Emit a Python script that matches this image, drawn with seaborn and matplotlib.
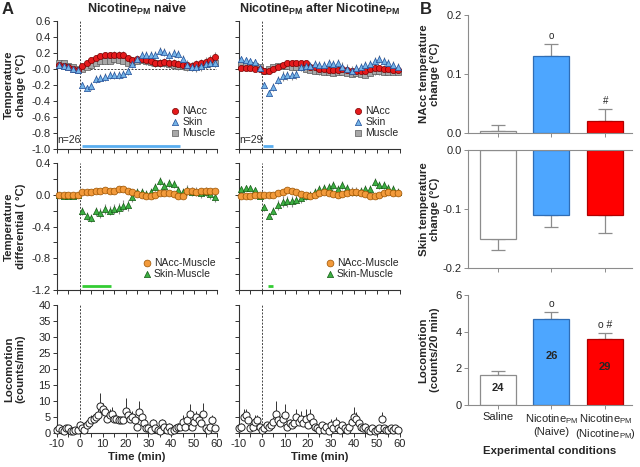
import numpy as np
import matplotlib
matplotlib.use("Agg")
import matplotlib.pyplot as plt
import seaborn as sns

sns.set_style("ticks")
plt.rcParams['font.family'] = ['Liberation Sans', 'DejaVu Sans']
plt.rcParams['mathtext.fontset'] = 'custom'
plt.rcParams['mathtext.rm'] = 'Liberation Sans'
plt.rcParams['mathtext.bf'] = 'Liberation Sans:bold'
plt.rcParams['axes.linewidth'] = 0.8
plt.rcParams['axes.unicode_minus'] = False

# ---- time grids (min) ----
t_temp = [-9, -7, -5, -3, -1, 1, 3, 5, 7, 9, 11, 13, 15, 17, 19, 21, 23, 25, 27, 29,
          31, 33, 35, 37, 39, 41, 43, 45, 47, 49, 51, 53, 55, 57, 59]
t_loco = list(range(-10, 60))

# ---- temperature change, naive ----
naive_nacc = [0.05, 0.04, 0.02, 0.0, -0.01, 0.04, 0.07, 0.11, 0.14, 0.16, 0.17, 0.17, 0.18, 0.18,
              0.17, 0.14, 0.11, 0.12, 0.12, 0.11, 0.10, 0.08, 0.08, 0.09, 0.08, 0.07, 0.06, 0.05,
              0.05, 0.04, 0.06, 0.07, 0.09, 0.11, 0.15]
naive_nacc_err = [0.03, 0.03, 0.03, 0.03, 0.02, 0.02, 0.03, 0.03, 0.04, 0.04, 0.04, 0.04, 0.05, 0.05,
                  0.05, 0.04, 0.04, 0.04, 0.05, 0.05, 0.05, 0.05, 0.05, 0.05, 0.05, 0.05, 0.05, 0.05,
                  0.05, 0.05, 0.05, 0.06, 0.06, 0.06, 0.06]
naive_skin = [0.05, 0.04, 0.02, 0.0, -0.01, -0.20, -0.24, -0.21, -0.12, -0.11, -0.10, -0.08, -0.08,
              -0.07, -0.06, -0.02, 0.06, 0.12, 0.17, 0.17, 0.17, 0.18, 0.23, 0.21, 0.18, 0.20, 0.19,
              0.12, 0.05, 0.03, 0.02, 0.04, 0.06, 0.07, 0.08]
naive_skin_err = [0.03, 0.03, 0.03, 0.03, 0.03, 0.04, 0.04, 0.05, 0.05, 0.05, 0.05, 0.05, 0.05, 0.05,
                  0.05, 0.05, 0.05, 0.05, 0.05, 0.05, 0.05, 0.05, 0.05, 0.05, 0.05, 0.05, 0.05, 0.06,
                  0.06, 0.06, 0.06, 0.06, 0.06, 0.06, 0.06]
naive_muscle = [0.08, 0.07, 0.04, 0.02, 0.0, 0.0, 0.03, 0.05, 0.08, 0.10, 0.10, 0.10, 0.12, 0.11,
                0.10, 0.08, 0.09, 0.10, 0.11, 0.10, 0.09, 0.08, 0.07, 0.07, 0.06, 0.05, 0.04, 0.04,
                0.03, 0.03, 0.04, 0.05, 0.06, 0.07, 0.08]
naive_muscle_err = [0.03, 0.03, 0.03, 0.02, 0.02, 0.02, 0.03, 0.03, 0.03, 0.04, 0.04, 0.04, 0.04, 0.04,
                    0.04, 0.04, 0.04, 0.04, 0.04, 0.05, 0.05, 0.05, 0.05, 0.05, 0.05, 0.05, 0.05, 0.05,
                    0.05, 0.05, 0.05, 0.05, 0.05, 0.05, 0.05]

# ---- temperature change, after nicotine ----
after_nacc = [0.01, 0.01, 0.01, 0.0, 0.0, -0.02, -0.02, 0.0, 0.03, 0.05, 0.07, 0.08, 0.07, 0.07,
              0.07, 0.03, 0.02, 0.0, 0.0, -0.01, -0.01, -0.01, 0.0, -0.01, -0.02, -0.02, -0.03,
              -0.02, 0.0, 0.01, 0.01, 0.0, 0.0, -0.01, -0.01]
after_nacc_err = [0.02, 0.02, 0.02, 0.02, 0.02, 0.02, 0.02, 0.03, 0.03, 0.03, 0.03, 0.03, 0.03, 0.03,
                  0.03, 0.03, 0.03, 0.03, 0.03, 0.03, 0.03, 0.03, 0.03, 0.04, 0.04, 0.04, 0.04, 0.04,
                  0.04, 0.04, 0.04, 0.04, 0.04, 0.04, 0.04]
after_skin = [0.12, 0.11, 0.10, 0.09, 0.01, -0.20, -0.30, -0.22, -0.14, -0.09, -0.08, -0.08, -0.06,
              0.02, 0.04, 0.04, 0.06, 0.05, 0.05, 0.08, 0.06, 0.08, 0.03, 0.0, -0.02, 0.01, 0.03,
              0.05, 0.06, 0.10, 0.12, 0.10, 0.07, 0.05, 0.02]
after_skin_err = [0.03, 0.03, 0.03, 0.03, 0.03, 0.04, 0.04, 0.05, 0.05, 0.06, 0.06, 0.06, 0.06, 0.05,
                  0.05, 0.05, 0.05, 0.05, 0.05, 0.05, 0.05, 0.05, 0.06, 0.06, 0.06, 0.05, 0.05, 0.05,
                  0.05, 0.05, 0.05, 0.05, 0.05, 0.05, 0.05]
after_muscle = [0.05, 0.05, 0.05, 0.04, 0.02, -0.02, 0.0, 0.02, 0.04, 0.04, 0.04, 0.03, 0.03, 0.02,
                0.0, -0.01, -0.02, -0.03, -0.04, -0.04, -0.05, -0.04, -0.04, -0.05, -0.06, -0.05,
                -0.06, -0.07, -0.05, -0.03, -0.03, -0.04, -0.04, -0.04, -0.04]
after_muscle_err = [0.02, 0.02, 0.02, 0.02, 0.02, 0.02, 0.03, 0.03, 0.03, 0.03, 0.03, 0.03, 0.03, 0.03,
                    0.03, 0.03, 0.04, 0.04, 0.04, 0.04, 0.04, 0.04, 0.04, 0.04, 0.04, 0.04, 0.04, 0.04,
                    0.04, 0.04, 0.04, 0.04, 0.04, 0.04, 0.04]

# ---- temperature differentials ----
naive_nm = [0.0, 0.0, 0.0, 0.0, 0.0, 0.04, 0.04, 0.04, 0.05, 0.05, 0.06, 0.05, 0.05, 0.07, 0.07,
            0.05, 0.03, 0.01, 0.0, -0.01, -0.02, 0.0, 0.02, 0.02, 0.02, 0.01, -0.01, -0.02, 0.05,
            0.05, 0.04, 0.05, 0.05, 0.05, 0.05]
naive_nm_err = [0.01, 0.01, 0.01, 0.01, 0.01, 0.01, 0.01, 0.01, 0.01, 0.02, 0.02, 0.02, 0.02, 0.02,
                0.02, 0.02, 0.02, 0.02, 0.02, 0.02, 0.02, 0.02, 0.02, 0.02, 0.02, 0.02, 0.02, 0.02,
                0.02, 0.02, 0.02, 0.02, 0.02, 0.02, 0.02]
naive_sm = [0.0, -0.01, -0.02, -0.02, 0.0, -0.20, -0.27, -0.29, -0.21, -0.23, -0.18, -0.20, -0.18,
            -0.17, -0.14, -0.13, -0.03, 0.03, 0.04, 0.01, 0.04, 0.10, 0.17, 0.11, 0.15, 0.14, 0.06,
            0.03, 0.06, 0.04, 0.04, 0.02, 0.04, 0.01, -0.03]
naive_sm_err = [0.02, 0.02, 0.02, 0.02, 0.02, 0.05, 0.05, 0.05, 0.06, 0.06, 0.06, 0.06, 0.06, 0.07,
                0.07, 0.07, 0.06, 0.05, 0.05, 0.05, 0.05, 0.05, 0.05, 0.05, 0.05, 0.05, 0.05, 0.05,
                0.06, 0.06, 0.06, 0.06, 0.06, 0.06, 0.06]
after_nm = [-0.02, -0.01, -0.01, 0.0, 0.0, 0.0, 0.0, 0.0, 0.02, 0.04, 0.06, 0.05, 0.03, 0.01, 0.0,
            -0.01, 0.0, 0.02, 0.03, 0.02, 0.01, 0.0, 0.01, 0.02, 0.03, 0.03, 0.02, 0.01, -0.01,
            -0.02, 0.0, 0.02, 0.03, 0.02, 0.02]
after_nm_err = [0.01, 0.01, 0.01, 0.01, 0.01, 0.01, 0.01, 0.01, 0.02, 0.02, 0.02, 0.02, 0.02, 0.02,
                0.02, 0.02, 0.02, 0.02, 0.02, 0.02, 0.02, 0.02, 0.02, 0.02, 0.02, 0.02, 0.02, 0.02,
                0.02, 0.02, 0.02, 0.02, 0.02, 0.02, 0.02]
after_sm = [0.07, 0.08, 0.09, 0.06, -0.02, -0.16, -0.27, -0.21, -0.13, -0.09, -0.08, -0.08, -0.06,
            -0.04, -0.02, 0.0, 0.03, 0.07, 0.08, 0.10, 0.12, 0.07, 0.12, 0.08, 0.04, 0.04, 0.05,
            0.07, 0.07, 0.16, 0.12, 0.12, 0.09, 0.07, 0.04]
after_sm_err = [0.02, 0.02, 0.02, 0.02, 0.02, 0.04, 0.04, 0.05, 0.06, 0.07, 0.07, 0.07, 0.06, 0.06,
                0.05, 0.05, 0.05, 0.05, 0.05, 0.05, 0.05, 0.05, 0.05, 0.05, 0.06, 0.06, 0.05, 0.05,
                0.05, 0.05, 0.05, 0.05, 0.05, 0.05, 0.05]

# ---- locomotion (counts/min) ----
naive_loco = [1, 1.5, 1, 0.5, 1.5, 1.5, 0.5, 0.5, 0.8, 1, 2.5, 1.5, 1, 2.5, 3, 4, 4.5, 5, 5.5, 8.5,
              7.5, 6.5, 4.5, 5.5, 6, 4.5, 4.5, 4, 4, 4, 7, 5.5, 4.5, 5, 4, 2, 6.5, 5, 3, 1.5,
              1.5, 1, 3, 1.5, 1, 0.5, 3, 2, 1, 2, 0.5, 1, 1.5, 2, 2, 3.5, 2, 4, 6, 2,
              3.5, 5, 4, 3, 6, 1.5, 1, 2, 4, 1.5]
naive_loco_err = [1, 1, 1, 0.5, 1, 1, 0.5, 0.5, 0.5, 1, 1, 1, 0.5, 1, 1, 1.5, 1.5, 1.5, 2, 4,
                  2, 2, 1.5, 2, 2, 1.5, 1.5, 1, 1, 1, 4, 2, 2, 2, 2, 1, 3.5, 1.5, 1, 1,
                  1, 0.5, 1.5, 1, 0.5, 0.5, 1.5, 1, 0.5, 1, 0.5, 1, 1, 1, 1.5, 2, 1.5, 2, 3, 1,
                  2, 2, 2, 1.5, 3.5, 1, 0.5, 1, 1.5, 1]
after_loco = [1.5, 2, 5, 5.5, 4, 1.5, 2, 3.5, 4, 2, 1, 1.5, 2.5, 2, 2.5, 3.5, 6, 4, 3, 4.5,
              5.5, 2, 3, 2.5, 3, 5, 3.5, 4.5, 3, 4.5, 2.5, 5, 3.5, 2, 1.5, 1, 2.5, 1, 2, 0.5,
              2.5, 1.5, 3, 1.5, 1, 2.5, 1.5, 1, 2, 3.5, 5, 4.5, 3, 2, 1.5, 2, 1, 0.5, 1.5, 0.5,
              1, 1.5, 4.5, 1.5, 1, 0.8, 1.5, 1, 1.5, 1]
after_loco_err = [1, 1, 2.5, 2, 1.5, 1, 1, 2, 1.5, 1, 0.5, 1, 1, 1, 1, 1.5, 4, 2, 1.5, 2,
                  3.5, 1, 1.5, 1, 1.5, 2.5, 1.5, 2.5, 1.5, 3, 1, 2.5, 2, 1, 1, 0.5, 1, 0.5, 1, 0.5,
                  2, 1, 2, 1, 0.5, 1, 1, 0.5, 1, 2, 3, 2, 1.5, 1, 1, 1, 0.5, 0.5, 1, 0.5,
                  0.5, 1, 2, 1, 0.5, 0.5, 1, 0.5, 1, 0.5]

# significance intervals (min)
sig_temp_naive = (1, 44)
sig_temp_after = (0.5, 5)
sig_diff_naive = (1, 13.5)
sig_diff_after = (2.5, 5)
n_naive, n_after = 26, 29

# ---- panel B ----
conditions = ["Saline", "Nicotine$_{\\mathrm{PM}}$\n(Naive)",
              "Nicotine$_{\\mathrm{PM}}$\n(Nicotine$_{\\mathrm{PM}}$)"]
nacc_mean = [0.003, 0.13, 0.02]
nacc_sem = [0.01, 0.02, 0.02]
skin_mean = [-0.15, -0.11, -0.11]
skin_sem = [0.02, 0.02, 0.03]
loco_mean = [1.65, 4.7, 3.6]
loco_sem = [0.2, 0.4, 0.35]
n_group = [24, 26, 29]
nacc_marks = ["", "o", "#"]
loco_marks = ["", "o", "o #"]

bar_colors = ["#ffffff", "#4da6ff", "#ff0000"]
bar_edges = ["#8c8c8c", "#2f6db5", "#b00000"]

C_NACC = ("#e41a1c", "#7a0000")
C_SKIN = ("#74b3e6", "#1f4e9a")
C_MUS = ("#a8a8a8", "#5a5a5a")
C_NM = ("#f29a3b", "#9a5200")
C_SM = ("#3cb043", "#145c14")
AX_C = "#333333"

fig = plt.figure(figsize=(6.4, 4.67), dpi=100)

colA = [0.0891, 0.3734]
wA = [0.25, 0.2516]
rows = [(0.6809, 0.2741), (0.3790, 0.2719), (0.0728, 0.2741)]

TICK_FS = 8
LAB_FS = 8.2
YLAB_X_A = -0.195
YLAB_X_B = -0.17


def style_axes(ax):
    sns.despine(ax=ax)
    for s in ("left", "bottom"):
        ax.spines[s].set_color(AX_C)
        ax.spines[s].set_linewidth(0.8)
    ax.tick_params(which="both", direction="out", color=AX_C, width=0.7,
                   labelsize=TICK_FS, pad=1.5, length=3)


def time_axis(ax, show_labels):
    ax.set_xlim(-10, 60)
    ax.set_xticks([-10, 0, 10, 20, 30, 40, 50, 60])
    ax.set_xticks([-5, 5, 15, 25, 35, 45, 55], minor=True)
    if not show_labels:
        ax.set_xticklabels([])
    ax.axvline(0, color="#444444", lw=0.7, ls=(0, (2, 1.5)), zorder=1)


def series(ax, t, v, e, colors, marker, label, size=16):
    ax.errorbar(t, v, yerr=e, fmt="none", ecolor="#8a8a8a", elinewidth=0.8,
                capsize=0, zorder=2, clip_on=False)
    sns.scatterplot(x=t, y=v, marker=marker, s=size, color=colors[0],
                    edgecolor=colors[1], linewidth=0.5, ax=ax, label=label,
                    zorder=3, clip_on=False)


def add_legend(ax, names):
    h, l = ax.get_legend_handles_labels()
    order = [l.index(n) for n in names]
    ax.legend([h[k] for k in order], [l[k] for k in order], loc="lower right",
              bbox_to_anchor=(1.03, 0.04), frameon=False, fontsize=7.5,
              handletextpad=0.1, labelspacing=0.1, borderaxespad=0.2, handlelength=1.2)


# ---- Panel A: temperature change ----
for i, (mus, skin, nacc, sig, n_txt) in enumerate([
        ((naive_muscle, naive_muscle_err), (naive_skin, naive_skin_err),
         (naive_nacc, naive_nacc_err), sig_temp_naive, n_naive),
        ((after_muscle, after_muscle_err), (after_skin, after_skin_err),
         (after_nacc, after_nacc_err), sig_temp_after, n_after)]):
    ax = fig.add_axes([colA[i], rows[0][0], wA[i], rows[0][1]])
    ax.hlines(0, 0, 60, color="#444444", lw=0.7, ls=(0, (2, 1.5)), zorder=1)
    series(ax, t_temp, mus[0], mus[1], C_MUS, "s", "Muscle", 15)
    series(ax, t_temp, nacc[0], nacc[1], C_NACC, "o", "NAcc", 20)
    series(ax, t_temp, skin[0], skin[1], C_SKIN, "^", "Skin", 20)
    ax.set_ylim(-1.0, 0.6)
    ax.set_yticks(np.round(np.arange(-1.0, 0.61, 0.2), 1))
    time_axis(ax, False)
    style_axes(ax)
    ax.plot(list(sig), [-0.96, -0.96], color="#5aaef0", lw=2, solid_capstyle="butt")
    ax.text(-10, -0.89, f"n={n_txt}", fontsize=7.5, ha="left", va="center")
    add_legend(ax, ["NAcc", "Skin", "Muscle"])
    if i == 0:
        ax.set_yticklabels([f"{v:.1f}" for v in ax.get_yticks()])
        ax.set_ylabel("Temperature\nchange (\u00b0C)", fontsize=LAB_FS, fontweight="bold")
        ax.yaxis.set_label_coords(YLAB_X_A, 0.5)
        ax.set_title("Nicotine$_{\\mathbf{PM}}$ naive", fontsize=9,
                     fontweight="bold", pad=6)
    else:
        ax.set_yticklabels([])
        ax.set_title("Nicotine$_{\\mathbf{PM}}$ after Nicotine$_{\\mathbf{PM}}$",
                     fontsize=9, fontweight="bold", pad=6)

# ---- Panel A: temperature differential ----
for i, (nm, sm, sig) in enumerate([
        ((naive_nm, naive_nm_err), (naive_sm, naive_sm_err), sig_diff_naive),
        ((after_nm, after_nm_err), (after_sm, after_sm_err), sig_diff_after)]):
    ax = fig.add_axes([colA[i], rows[1][0], wA[i], rows[1][1]])
    series(ax, t_temp, sm[0], sm[1], C_SM, "^", "Skin-Muscle", 20)
    series(ax, t_temp, nm[0], nm[1], C_NM, "o", "NAcc-Muscle", 24)
    ax.set_ylim(-1.2, 0.4)
    ax.set_yticks(np.round(np.arange(-1.2, 0.41, 0.2), 1))
    time_axis(ax, False)
    style_axes(ax)
    ax.plot(list(sig), [-1.15, -1.15], color="#33cc33", lw=2, solid_capstyle="butt")
    add_legend(ax, ["NAcc-Muscle", "Skin-Muscle"])
    if i == 0:
        ax.set_yticklabels(["-1.2", "", "-0.8", "", "-0.4", "", "0.0", "", "0.4"])
        ax.set_ylabel("Temperature\ndifferential ( \u00b0C)", fontsize=LAB_FS,
                      fontweight="bold")
        ax.yaxis.set_label_coords(YLAB_X_A, 0.5)
    else:
        ax.set_yticklabels([])

# ---- Panel A: locomotion ----
for i, (loc, err) in enumerate([(naive_loco, naive_loco_err), (after_loco, after_loco_err)]):
    ax = fig.add_axes([colA[i], rows[2][0], wA[i], rows[2][1]])
    ax.errorbar(t_loco, loc, yerr=[np.zeros(len(err)), err], fmt="none",
                ecolor="#333333", elinewidth=0.7, capsize=0, zorder=2, clip_on=False)
    sns.scatterplot(x=t_loco, y=loc, marker="o", s=26, color="white",
                    edgecolor="#222222", linewidth=0.7, ax=ax, zorder=3, clip_on=False)
    ax.set_ylim(0, 40)
    ax.set_yticks(range(0, 41, 5))
    time_axis(ax, True)
    style_axes(ax)
    ax.set_xlabel("Time (min)", fontsize=LAB_FS, fontweight="bold", labelpad=2)
    if i == 0:
        ax.set_ylabel("Locomotion\n(counts/min)", fontsize=LAB_FS, fontweight="bold")
        ax.yaxis.set_label_coords(YLAB_X_A, 0.5)
    else:
        ax.set_yticklabels([])

# ---- Panel B ----
colB = 0.7313
wB = 0.2563
b_rows = [(0.7152, 0.2527), (0.4261, 0.2527), (0.1328, 0.2355)]


def bar_panel(ax, means, sems):
    sns.barplot(x=list(range(3)), y=means, hue=list(range(3)), palette=bar_colors,
                saturation=1, legend=False, width=0.67, ax=ax, zorder=2, linewidth=0.9)
    for patch, ec in zip(ax.patches, bar_edges):
        patch.set_edgecolor(ec)
    lo = [s if m < 0 else 0 for m, s in zip(means, sems)]
    hi = [s if m >= 0 else 0 for m, s in zip(means, sems)]
    ax.errorbar(range(3), means, yerr=[lo, hi], fmt="none", ecolor="#8c8c8c",
                elinewidth=0.9, capsize=5, capthick=0.9, zorder=1, clip_on=False)
    ax.set_xlim(-0.55, 2.5)
    sns.despine(ax=ax)
    for s in ("left", "bottom"):
        ax.spines[s].set_color("#8c8c8c")
    ax.tick_params(direction="out", color="#8c8c8c", length=3, width=0.7,
                   labelsize=TICK_FS, pad=1.5)


ax = fig.add_axes([colB, b_rows[0][0], wB, b_rows[0][1]])
bar_panel(ax, nacc_mean, nacc_sem)
ax.set_ylim(0, 0.2)
ax.set_yticks([0.0, 0.1, 0.2])
ax.set_yticklabels(["0.0", "0.1", "0.2"])
ax.set_xticklabels([])
for k, (m, s, mk) in enumerate(zip(nacc_mean, nacc_sem, nacc_marks)):
    if mk:
        ax.text(k, m + s + 0.006, mk, ha="center", va="bottom", fontsize=7)
ax.set_ylabel("NAcc temperature\nchange (\u00b0C)", fontsize=LAB_FS, fontweight="bold")
ax.yaxis.set_label_coords(YLAB_X_B, 0.5)

ax = fig.add_axes([colB, b_rows[1][0], wB, b_rows[1][1]])
bar_panel(ax, skin_mean, skin_sem)
ax.set_ylim(-0.2, 0)
ax.set_yticks([-0.2, -0.1, 0.0])
ax.set_yticklabels(["-0.2", "-0.1", "0.0"])
ax.set_xticklabels([])
ax.spines["top"].set_visible(True)
ax.spines["top"].set_color("#8c8c8c")
ax.set_ylabel("Skin temperature\nchange (\u00b0C)", fontsize=LAB_FS, fontweight="bold")
ax.yaxis.set_label_coords(YLAB_X_B, 0.5)

ax = fig.add_axes([colB, b_rows[2][0], wB, b_rows[2][1]])
bar_panel(ax, loco_mean, loco_sem)
ax.set_ylim(0, 6)
ax.set_yticks([0, 2, 4, 6])
ax.set_xticks(range(3))
ax.set_xticklabels(conditions, fontsize=TICK_FS, linespacing=1.1)
ax.tick_params(axis="x", pad=2)
for k, (m, s, mk, n) in enumerate(zip(loco_mean, loco_sem, loco_marks, n_group)):
    if mk:
        ax.text(k, m + s + 0.15, mk, ha="center", va="bottom", fontsize=7.5)
    ax.text(k, m * 0.57 if k else 0.95, str(n), ha="center", va="center",
            fontsize=8, fontweight="bold")
ax.set_ylabel("Locomotion\n(counts/20 min)", fontsize=LAB_FS, fontweight="bold")
ax.yaxis.set_label_coords(YLAB_X_B, 0.5)
ax.set_xlabel("Experimental conditions", fontsize=LAB_FS, fontweight="bold",
              labelpad=4)

fig.text(0.003, 0.995, "A", fontsize=12, fontweight="bold", va="top", ha="left")
fig.text(0.656, 0.995, "B", fontsize=12, fontweight="bold", va="top", ha="left")

fig.savefig("out.png", dpi=100)
